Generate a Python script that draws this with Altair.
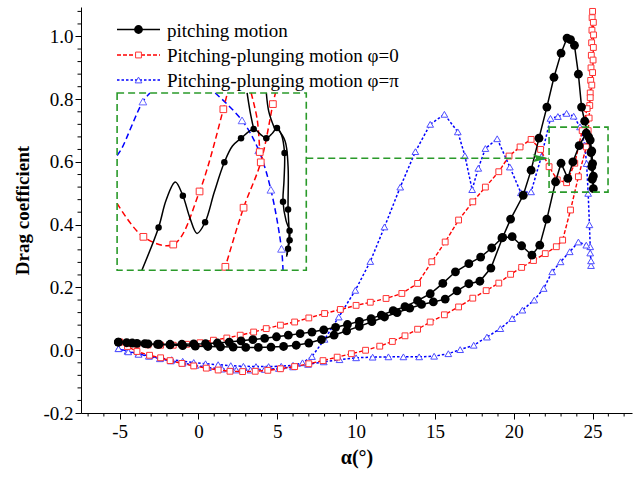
import altair as alt
import pandas as pd

# ---------------- data (alpha in degrees, drag coefficient) ----------------
series_labels = ["pitching motion", "Pitching-plunging motion \u03c6=0", "Pitching-plunging motion \u03c6=\u03c0"]

# pitching motion (closed loop, in drawing order)
black_alpha = [-5.08, -4.55, -3.9, -3.2, -2.5, -1.8, -1.05, -0.3, 0.45, 1.2, 1.95, 2.7, 3.45, 4.2, 4.95,
               5.7, 6.45, 7.2, 7.95, 8.7, 9.45, 10.2, 10.95, 11.6, 12.35, 13.1, 13.9, 14.7, 15.5, 16.3,
               17.15, 17.9, 18.6, 19.25, 19.9, 20.5, 21.15, 21.65, 22.1, 22.65, 23.0, 23.43, 23.75, 24.15,
               24.6, 24.85, 24.95, 25.0, 25.05, 25.05,
               24.98, 24.95, 24.9, 24.75, 24.5, 24.3, 24.1, 23.85, 23.6, 23.38, 23.0, 22.55, 22.1, 21.6,
               21.1, 20.6, 19.8, 19.3, 18.55, 17.85, 17.15, 16.4, 15.65, 14.9, 14.15, 13.4, 12.6, 11.8,
               11.0, 10.2, 9.4, 8.6, 7.8, 7.0, 6.2, 5.4, 4.6, 3.8, 3.0, 2.2, 1.4, 0.6, -0.2, -1.0, -1.8,
               -2.6, -3.4, -4.2, -5.08]
black_cd = [0.026, 0.024, 0.022, 0.020, 0.019, 0.019, 0.019, 0.020, 0.021, 0.023, 0.026, 0.030, 0.034, 0.038, 0.043,
            0.048, 0.053, 0.058, 0.065, 0.073, 0.082, 0.092, 0.101, 0.112, 0.126, 0.139, 0.158, 0.180, 0.213, 0.250,
            0.276, 0.297, 0.326, 0.358, 0.362, 0.333, 0.303, 0.335, 0.418, 0.537, 0.596, 0.548, 0.600, 0.652,
            0.692, 0.670, 0.635, 0.595, 0.555, 0.515,
            0.545, 0.585, 0.630, 0.680, 0.730, 0.775, 0.880, 0.972, 0.990, 0.995, 0.947, 0.870, 0.775, 0.676,
            0.574, 0.494, 0.418, 0.360, 0.262, 0.220, 0.212, 0.189, 0.163, 0.154, 0.146, 0.134, 0.120, 0.106,
            0.091, 0.076, 0.062, 0.048, 0.034, 0.023, 0.016, 0.012, 0.010, 0.009, 0.009, 0.010, 0.011, 0.012, 0.013,
            0.015, 0.017, 0.019, 0.021, 0.023, 0.026]

# pitching-plunging motion, phi = 0
red_alpha = [-5.0, -4.5, -3.9, -3.1, -2.4, -1.8, -1.05, -0.3, 0.5, 1.25, 2.0, 2.8, 3.6, 4.4, 5.2, 6.1, 7.0,
             7.9, 8.8, 9.7, 10.6, 11.5, 12.3, 13.1, 13.9, 14.7, 15.6, 16.5, 17.4, 18.25, 19.05, 19.8, 20.5,
             21.25, 22.0, 22.7, 23.1, 23.6, 24.1, 24.6, 24.72, 24.78, 24.82, 24.85, 24.88, 24.9, 24.92, 24.94,
             24.96, 24.97, 25.0,
             25.05, 25.06, 25.05, 25.03, 25.0, 24.95, 24.85, 24.65, 24.34, 23.87, 23.35, 22.76, 22.24, 21.7,
             21.1, 20.4, 19.7, 19.05, 18.2, 17.4, 16.5, 15.65, 14.8, 13.9, 12.9, 11.9, 10.9, 10.0, 9.0, 8.0,
             7.0, 6.1, 5.2, 4.3, 3.5, 2.65, 1.8, 0.95, 0.1, -0.75, -1.6, -2.4, -3.2, -3.9, -4.5, -5.0]
red_cd = [0.026, 0.012, -0.004, -0.016, -0.024, -0.033, -0.042, -0.050, -0.057, -0.063, -0.067, -0.068, -0.067,
          -0.064, -0.059, -0.052, -0.043, -0.033, -0.022, -0.011, 0.000, 0.013, 0.028, 0.046, 0.067, 0.090, 0.113,
          0.138, 0.166, 0.190, 0.214, 0.242, 0.264, 0.286, 0.308, 0.330, 0.351, 0.447, 0.553, 0.648, 0.700, 0.740,
          0.780, 0.820, 0.860, 0.900, 0.940, 0.980, 1.020, 1.060, 1.080,
          1.045, 1.005, 0.965, 0.925, 0.885, 0.845, 0.805, 0.770, 0.700, 0.596, 0.534, 0.543, 0.585, 0.640,
          0.672, 0.648, 0.619, 0.569, 0.520, 0.473, 0.415, 0.345, 0.282, 0.213, 0.181, 0.165, 0.153, 0.143,
          0.130, 0.117, 0.103, 0.090, 0.080, 0.069, 0.058, 0.048, 0.039, 0.032, 0.024, 0.019, 0.016, 0.016,
          0.017, 0.019, 0.021, 0.026]

# pitching-plunging motion, phi = pi
blue_alpha = [-5.07, -4.5, -3.8, -3.1, -2.4, -1.7, -1.0, -0.3, 0.45, 1.25, 2.05, 2.85, 3.65, 4.45, 5.25, 6.0,
              6.6, 7.2, 8.0, 8.9, 9.95, 10.9, 11.8, 12.8, 13.76, 14.7, 15.6, 16.45, 16.9, 17.36, 17.75, 18.2,
              18.95, 19.75, 20.45, 21.1, 21.75, 22.33, 22.8, 23.35, 23.8, 24.2, 24.5, 24.62, 24.72, 24.8, 24.85,
              24.9,
              24.9, 24.85, 24.6, 24.1, 23.55, 22.97, 22.44, 21.9, 21.3, 20.55, 19.9, 19.15, 18.3, 17.46, 16.6,
              15.85, 14.95, 14.0, 13.0, 12.05, 11.05, 10.0, 8.95, 7.95, 6.95, 6.0, 5.1, 4.2, 3.3, 2.4, 1.5, 0.6,
              -0.2, -1.0, -1.75, -2.45, -3.15, -3.8, -4.45, -5.07]
blue_cd = [0.005, -0.003, -0.011, -0.018, -0.025, -0.030, -0.035, -0.039, -0.043, -0.046, -0.049, -0.051, -0.052,
           -0.052, -0.051, -0.048, -0.040, -0.020, 0.035, 0.106, 0.191, 0.283, 0.393, 0.520, 0.633, 0.720, 0.752,
           0.696, 0.620, 0.512, 0.580, 0.643, 0.674, 0.584, 0.502, 0.505, 0.617, 0.739, 0.745, 0.755, 0.746,
           0.712, 0.654, 0.595, 0.500, 0.400, 0.330, 0.270,
           0.285, 0.310, 0.335, 0.345, 0.314, 0.282, 0.250, 0.197, 0.160, 0.128, 0.101, 0.069, 0.042, 0.016,
           0.002, -0.011, -0.019, -0.021, -0.021, -0.021, -0.022, -0.024, -0.030, -0.037, -0.045, -0.053,
           -0.058, -0.061, -0.063, -0.063, -0.060, -0.055, -0.048, -0.041, -0.034, -0.027, -0.019, -0.013,
           -0.005, 0.005]

# ---- magnified window (inset) data in window units ----
inset_black_seg = [1] * 26 + [2] * 3 + [3] * 3 + [4] * 6
inset_black_alpha = [22.73, 23.06, 23.21, 23.39, 23.54, 23.68, 23.82, 23.98, 24.16, 24.36, 24.52, 24.69, 24.94,
                     25.07, 25.19, 25.31, 25.40, 25.49, 25.55, 25.54, 25.52, 25.58, 25.65, 25.65, 25.62, 25.59,
                     24.81, 24.87, 24.94,
                     25.19, 25.24, 25.35,
                     25.40, 25.56, 25.62, 25.62, 25.64, 25.60]
inset_black_cd = [0.504, 0.554, 0.586, 0.607, 0.591, 0.565, 0.547, 0.560, 0.595, 0.630, 0.649, 0.658, 0.669,
                  0.663, 0.658, 0.664, 0.670, 0.662, 0.641, 0.609, 0.584, 0.562, 0.550, 0.539, 0.529, 0.520,
                  0.711, 0.689, 0.669,
                  0.711, 0.689, 0.670,
                  0.670, 0.655, 0.625, 0.575, 0.545, 0.522]
inset_black_mark_alpha = [23.06, 23.54, 23.98, 24.36, 24.69, 24.94, 25.19, 25.40, 25.55, 25.52, 25.62, 25.65,
                          25.65, 25.62]
inset_black_mark_cd = [0.554, 0.591, 0.560, 0.630, 0.658, 0.669, 0.658, 0.670, 0.641, 0.584, 0.575, 0.550,
                       0.539, 0.529]

inset_red_seg = [1] * 6 + [2] * 6 + [3] * 3
inset_red_alpha = [22.24, 22.76, 23.35, 23.87, 24.34, 24.42,
                   24.36, 24.38, 24.74, 25.08, 25.32, 25.37,
                   24.89, 25.01, 25.06]
inset_red_cd = [0.582, 0.543, 0.534, 0.596, 0.692, 0.711,
                0.504, 0.508, 0.577, 0.630, 0.698, 0.711,
                0.711, 0.680, 0.642]
inset_red_mark_alpha = [22.76, 23.35, 23.87, 24.34, 24.38, 24.74, 25.06, 25.08, 25.32]
inset_red_mark_cd = [0.543, 0.534, 0.596, 0.692, 0.508, 0.577, 0.642, 0.630, 0.698]

inset_blue_seg = [1] * 4 + [2] * 6
inset_blue_alpha = [22.24, 22.33, 22.75, 22.89,
                    24.18, 24.71, 25.04, 25.28, 25.49, 25.52]
inset_blue_cd = [0.638, 0.646, 0.701, 0.711,
                 0.711, 0.679, 0.644, 0.598, 0.529, 0.504]
inset_blue_mark_alpha = [22.75, 24.71, 25.04, 25.28, 25.49]
inset_blue_mark_cd = [0.701, 0.679, 0.644, 0.598, 0.529]

# ---------------- layout / style ----------------
X_DOMAIN = [-7.45, 27.5]
Y_DOMAIN = [-0.2, 1.094]
WIN = (22.24, 25.98, 0.504, 0.711)      # magnified window (alpha0, alpha1, cd0, cd1)
FRAME = (-5.16, 6.84, 0.255, 0.82)      # where the magnified view is drawn
ARROW_CD = 0.612
ARROW_HEAD_A = 21.7
GREEN = "#2a9a2a"
SERIF = "Liberation Serif"
W, H = 551, 406

xs = alt.Scale(domain=X_DOMAIN, nice=False, zero=False)
ys = alt.Scale(domain=Y_DOMAIN, nice=False, zero=False)


def series_df(a, c):
    return pd.DataFrame({"a": a, "cd": c, "i": range(len(a))})


def inset_df(a, c, seg=None):
    ka = (FRAME[1] - FRAME[0]) / (WIN[1] - WIN[0])
    kc = (FRAME[3] - FRAME[2]) / (WIN[3] - WIN[2])
    df = pd.DataFrame({"a": [FRAME[0] + (v - WIN[0]) * ka for v in a],
                       "cd": [FRAME[2] + (v - WIN[2]) * kc for v in c],
                       "i": range(len(a))})
    df["seg"] = seg if seg is not None else 0
    return df


def X():
    return alt.X("a:Q", scale=xs)


def Y():
    return alt.Y("cd:Q", scale=ys)


x_axis = alt.Axis(title="\u03b1(\u00b0)", values=[-5, 0, 5, 10, 15, 20, 25], grid=False,
                  labelExpr="datum.value < 0 ? '-' + format(-datum.value, 'd') : format(datum.value, 'd')",
                  tickSize=6, tickColor="black", domainColor="black", labelColor="black",
                  labelFont=SERIF, labelFontSize=19, labelPadding=3,
                  titleFont=SERIF, titleFontSize=20, titleFontWeight="bold", titleColor="black",
                  titlePadding=6)
y_axis = alt.Axis(title="Drag coefficient", values=[-0.2, 0, 0.2, 0.4, 0.6, 0.8, 1.0], grid=False,
                  labelExpr="datum.value < 0 ? '-' + format(-datum.value, '.1f') : format(datum.value, '.1f')",
                  tickSize=6, tickColor="black", domainColor="black", labelColor="black",
                  labelFont=SERIF, labelFontSize=19, labelPadding=2,
                  titleFont=SERIF, titleFontSize=19, titleFontWeight="bold", titleColor="black",
                  titlePadding=10)

dB = series_df(black_alpha, black_cd)
dR = series_df(red_alpha, red_cd)
dU = series_df(blue_alpha, blue_cd)

RED_DASH = [4, 2]
BLUE_DASH = [2.5, 2]

blue_line = alt.Chart(dU).mark_line(color="#0000ff", strokeWidth=1.5, strokeDash=BLUE_DASH).encode(
    x=alt.X("a:Q", scale=xs, axis=x_axis), y=alt.Y("cd:Q", scale=ys, axis=y_axis), order="i:Q")
blue_pts = alt.Chart(dU).mark_point(shape="triangle-up", filled=False, fill="white", stroke="#4d4dff",
                                    strokeWidth=1, size=45, opacity=1).encode(x=X(), y=Y())
red_line = alt.Chart(dR).mark_line(color="#ff0000", strokeWidth=1.4, strokeDash=RED_DASH).encode(
    x=X(), y=Y(), order="i:Q")
red_pts = alt.Chart(dR).mark_point(shape="square", filled=False, fill="white", stroke="#ff3333",
                                   strokeWidth=1, size=34, opacity=1).encode(x=X(), y=Y())
black_line = alt.Chart(dB).mark_line(color="black", strokeWidth=1.5).encode(
    x=X(), y=Y(), order="i:Q")
black_pts = alt.Chart(dB).mark_point(shape="circle", filled=True, color="black", size=78,
                                     opacity=1).encode(x=X(), y=Y())

# minor ticks
y_minor = [round(-0.2 + 0.04 * k, 2) for k in range(33) if k % 5 != 0]
x_minor = [v for v in range(-7, 28) if v % 5 != 0]
y_minor_ticks = alt.Chart(pd.DataFrame({"cd": y_minor})).mark_rule(color="black", strokeWidth=1).encode(
    y=Y(), x=alt.value(-3.5), x2=alt.value(0))
x_minor_ticks = alt.Chart(pd.DataFrame({"a": x_minor})).mark_rule(color="black", strokeWidth=1).encode(
    x=X(), y=alt.value(H), y2=alt.value(H + 3.5))

# green frames and arrow
frames = pd.DataFrame({"a": [FRAME[0], WIN[0]], "a2": [FRAME[1], WIN[1]],
                       "cd": [FRAME[2], WIN[2]], "cd2": [FRAME[3], WIN[3]]})
frame_layer = alt.Chart(frames).mark_rect(fillOpacity=0, stroke=GREEN, strokeWidth=1.6,
                                          strokeDash=[7, 4]).encode(
    x=X(), x2="a2:Q", y=Y(), y2="cd2:Q")
arrow_df = pd.DataFrame({"a": [FRAME[1]], "a2": [WIN[0]], "cd": [ARROW_CD]})
arrow_line = alt.Chart(arrow_df).mark_rule(color=GREEN, strokeWidth=1.4, strokeDash=[7, 4]).encode(
    x=X(), x2="a2:Q", y=Y())
arrow_head = alt.Chart(pd.DataFrame({"a": [ARROW_HEAD_A], "cd": [ARROW_CD]})).mark_point(
    shape="M -1 -0.5 L 1 0 L -1 0.5 L -0.55 0 Z", filled=True, color=GREEN, size=256, opacity=1).encode(
    x=X(), y=Y())

# inset (magnified view)
iB = inset_df(inset_black_alpha, inset_black_cd, inset_black_seg)
iR = inset_df(inset_red_alpha, inset_red_cd, inset_red_seg)
iU = inset_df(inset_blue_alpha, inset_blue_cd, inset_blue_seg)
iBm = inset_df(inset_black_mark_alpha, inset_black_mark_cd)
iRm = inset_df(inset_red_mark_alpha, inset_red_mark_cd)
iUm = inset_df(inset_blue_mark_alpha, inset_blue_mark_cd)

inset_layers = [
    alt.Chart(iU).mark_line(color="#0000ff", strokeWidth=1.5, strokeDash=[6, 3.5],
                            interpolate="catmull-rom").encode(x=X(), y=Y(), detail="seg:N", order="i:Q"),
    alt.Chart(iUm).mark_point(shape="triangle-up", filled=False, fill="white", stroke="#6666ff",
                              strokeWidth=1, size=60, opacity=1).encode(x=X(), y=Y()),
    alt.Chart(iR).mark_line(color="#ff0000", strokeWidth=1.5, strokeDash=[6, 3.5],
                            interpolate="catmull-rom").encode(x=X(), y=Y(), detail="seg:N", order="i:Q"),
    alt.Chart(iRm).mark_point(shape="square", filled=False, fill="white", stroke="#ff3333",
                              strokeWidth=1, size=45, opacity=1).encode(x=X(), y=Y()),
    alt.Chart(iB).mark_line(color="black", strokeWidth=1.5,
                            interpolate="catmull-rom").encode(x=X(), y=Y(), detail="seg:N", order="i:Q"),
    alt.Chart(iBm).mark_point(shape="circle", filled=True, color="black", size=42,
                              opacity=1).encode(x=X(), y=Y()),
]

# legend (drawn manually)
LEG_Y = [22.5, 48, 73]
leg_one = pd.DataFrame({"k": [0]})
legend_layers = []
leg_styles = [
    dict(color="black", dash=None, shape="circle", filled=True, size=78, stroke="black"),
    dict(color="#ff0000", dash=RED_DASH, shape="square", filled=False, size=34, stroke="#ff3333"),
    dict(color="#0000ff", dash=BLUE_DASH, shape="triangle-up", filled=False, size=45, stroke="#4d4dff"),
]
for row, (label, st) in enumerate(zip(series_labels, leg_styles)):
    rule_kw = dict(color=st["color"], strokeWidth=1.5)
    if st["dash"]:
        rule_kw["strokeDash"] = st["dash"]
    legend_layers.append(alt.Chart(leg_one).mark_rule(**rule_kw).encode(
        x=alt.value(36), x2=alt.value(79), y=alt.value(LEG_Y[row])))
    if st["filled"]:
        pt = alt.Chart(leg_one).mark_point(shape=st["shape"], filled=True, color=st["color"],
                                           size=st["size"], opacity=1)
    else:
        pt = alt.Chart(leg_one).mark_point(shape=st["shape"], filled=False, fill="white",
                                           stroke=st["stroke"], strokeWidth=1, size=st["size"], opacity=1)
    legend_layers.append(pt.encode(x=alt.value(57.5), y=alt.value(LEG_Y[row])))
    legend_layers.append(alt.Chart(pd.DataFrame({"t": [label]})).mark_text(
        align="left", baseline="middle", font=SERIF, fontSize=19, color="black").encode(
        x=alt.value(86), y=alt.value(LEG_Y[row] + 1), text="t:N"))

chart = alt.layer(
    blue_line, y_minor_ticks, x_minor_ticks,
    blue_pts, red_line, red_pts, black_line, black_pts,
    *inset_layers, frame_layer, arrow_line, arrow_head, *legend_layers
).properties(
    width=W, height=H,
    background="white",
    padding={"left": 81, "top": 7, "right": 5, "bottom": 64},
    autosize=alt.AutoSizeParams(type="none"),
).configure_view(stroke=None)

chart.save("out.html", embed_options={"renderer": "svg", "actions": False})
